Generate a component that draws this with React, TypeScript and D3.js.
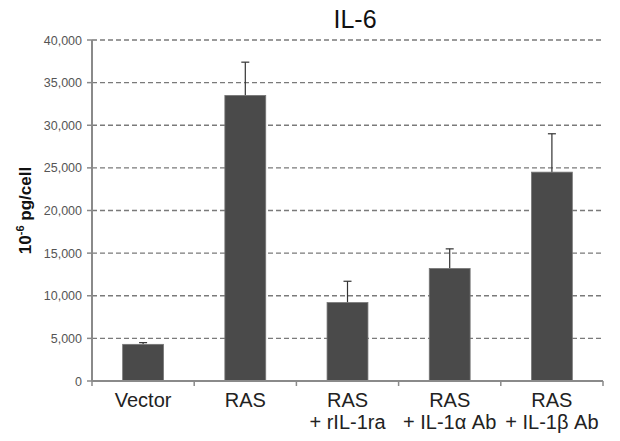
import React from "react";
import * as d3 from "d3";

const categories = ["Vector", "RAS", "RAS\n+ rIL-1ra", "RAS\n+ IL-1α Ab", "RAS\n+ IL-1β Ab"];
const values = [4300, 33500, 9200, 13200, 24500];
const errors = [200, 3900, 2500, 2300, 4500];
const yTicks = [0, 5000, 10000, 15000, 20000, 25000, 30000, 35000, 40000];

const W = 620, H = 441;
const m = { left: 92, right: 17, top: 40, bottom: 60 };

export default function App() {
  const x = d3.scaleBand<string>().domain(categories).range([m.left, W - m.right]).paddingInner(0).paddingOuter(0);
  const y = d3.scaleLinear().domain([0, 40000]).range([H - m.bottom, m.top]);
  const bw = x.bandwidth() * 0.4;
  const fmt = d3.format(",");
  const font = "'Liberation Sans', Arial, sans-serif";
  const x0 = m.left, x1 = W - m.right, yb = y(0);
  const bounds = [...categories.map((c) => x(c)!), x1];
  return (
    <svg width={W} height={H} style={{ position: "absolute", left: 0, top: 0, background: "#fff" }} fontFamily={font}>
      <rect width={W} height={H} fill="#fff" />
      <text x={355} y={28} textAnchor="middle" fontSize={25} fill="#111">IL-6</text>
      {yTicks.filter((t) => t > 0).map((t) => (
        <line key={t} x1={x0} x2={x1} y1={y(t)} y2={y(t)} stroke="#7a7a7a" strokeWidth={1.3} strokeDasharray="5,3" />
      ))}
      {categories.map((c, i) => {
        const cx = x(c)! + x.bandwidth() / 2;
        return (
          <g key={c}>
            <line x1={cx} x2={cx} y1={y(values[i] + errors[i])} y2={y(values[i])} stroke="#333" strokeWidth={1.2} />
            <line x1={cx - 4} x2={cx + 4} y1={y(values[i] + errors[i])} y2={y(values[i] + errors[i])} stroke="#333" strokeWidth={1.2} />
            <rect x={cx - bw / 2} y={y(values[i])} width={bw} height={yb - y(values[i])} fill="#4a4a4a" stroke="#777" strokeWidth={0.8} />
          </g>
        );
      })}
      <line x1={x0} x2={x0} y1={m.top} y2={yb} stroke="#8a8a8a" strokeWidth={2} />
      <line x1={x0} x2={x1} y1={yb} y2={yb} stroke="#8a8a8a" strokeWidth={2} />
      {yTicks.map((t) => (
        <g key={t}>
          <line x1={x0 - 5} x2={x0} y1={y(t)} y2={y(t)} stroke="#8a8a8a" strokeWidth={1.5} />
          <text x={x0 - 10} y={y(t) + 4.5} textAnchor="end" fontSize={12.5} fill="#555">{fmt(t)}</text>
        </g>
      ))}
      {bounds.map((b, i) => (
        <line key={i} x1={b} x2={b} y1={yb} y2={yb + 5} stroke="#8a8a8a" strokeWidth={1.5} />
      ))}
      {categories.map((c) => {
        const cx = x(c)! + x.bandwidth() / 2;
        const lines = c.split("\n");
        return (
          <text key={c} textAnchor="middle" fontSize={20} fill="#222">
            {lines.map((l, j) => (
              <tspan key={j} x={cx} y={407 + j * 22}>{l}</tspan>
            ))}
          </text>
        );
      })}
      <text transform={`translate(31,${(m.top + yb) / 2}) rotate(-90)`} textAnchor="middle" fontSize={17} fontWeight="bold" fill="#111">
        10<tspan dy={-7} fontSize={11}>-6</tspan><tspan dy={7}> pg/cell</tspan>
      </text>
    </svg>
  );
}
